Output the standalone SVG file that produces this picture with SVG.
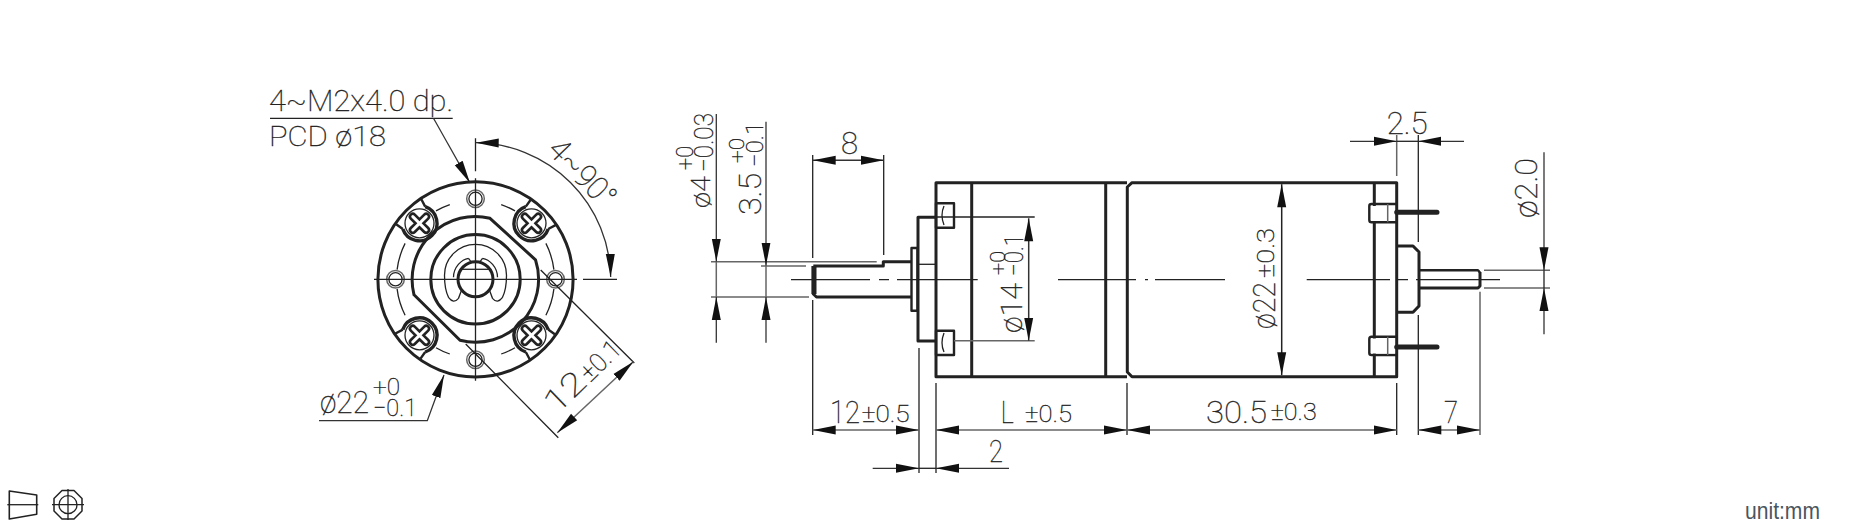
<svg xmlns="http://www.w3.org/2000/svg" xmlns:xlink="http://www.w3.org/1999/xlink" width="1850" height="524" viewBox="0 0 1850 524">
<style>
.k{fill:none;stroke:#222;stroke-width:3;stroke-linejoin:round}
.m{fill:none;stroke:#222;stroke-width:2.4;stroke-linejoin:round}
.n{fill:none;stroke:#222;stroke-width:1.3}
.g{fill:none;stroke:#666;stroke-width:1.5}
.d{fill:none;stroke:#333;stroke-width:1.3;marker-end:url(#a)}
.dd{fill:none;stroke:#666;stroke-width:1.5;marker-start:url(#as);marker-end:url(#a)}
.t{font-family:"Roboto","Liberation Sans",sans-serif;font-weight:100;fill:#222;stroke:#222;stroke-width:.35}
.s32{font-size:32px}.s29{font-size:29px}.s27{font-size:27px}.s26{font-size:26px}.s24{font-size:24px}.s21{font-size:21px}
</style>
<defs>
<marker id="a" markerUnits="userSpaceOnUse" markerWidth="24" markerHeight="10" refX="23" refY="5" orient="auto"><path d="M0,.5L23,5L0,9.5Z" fill="#111"/></marker>
<marker id="as" markerUnits="userSpaceOnUse" markerWidth="24" markerHeight="10" refX="0" refY="5" orient="auto"><path d="M23,.5L0,5L23,9.5Z" fill="#111"/></marker>
<g id="screw">
<circle cx="-56" cy="-56" r="14.5" class="n"/>
<path d="M-50.3,-72.7A17.6,17.6 0 1 1 -72.7,-50.3" fill="none" stroke="#222" stroke-width="3.4"/>
<path d="M-50.3,-72.7L-54.7,-81M-72.7,-50.3L-79.3,-55" class="m"/>
<path transform="translate(-56,-56) rotate(45)" d="M-2.8,-2.8V-9.5A2.8,2.8 0 0 1 2.8,-9.5V-2.8H9.5A2.8,2.8 0 0 1 9.5,2.8H2.8V9.5A2.8,2.8 0 0 1 -2.8,9.5V2.8H-9.5A2.8,2.8 0 0 1 -9.5,-2.8Z" fill="#fff" stroke="#222" stroke-width="2.6"/>
</g>
<g id="hole">
<circle r="8.8" class="g"/>
<circle r="6.6" class="n"/>
</g>
</defs>

<g id="front-view" transform="translate(475.5,279.3)">
<circle r="97.6" class="k" stroke-width="3.2"/>
<path d="M-25.7,-74.7A79,79 0 0 0 -39.5,-68.4M25.7,-74.7A79,79 0 0 1 39.5,-68.4M-25.7,74.7A79,79 0 0 1 -39.5,68.4M25.7,74.7A79,79 0 0 0 39.5,68.4M-78.4,-9.6A79,79 0 0 1 -70.4,-35.9M78.4,-9.6A79,79 0 0 0 70.4,-35.9M-78.4,9.6A79,79 0 0 0 -70.4,35.9M78.4,9.6A79,79 0 0 1 70.4,35.9" class="n"/>
<use xlink:href="#screw" href="#screw"/>
<use xlink:href="#screw" href="#screw" transform="rotate(90)"/>
<use xlink:href="#screw" href="#screw" transform="rotate(180)"/>
<use xlink:href="#screw" href="#screw" transform="rotate(270)"/>
<use xlink:href="#hole" href="#hole" y="-80.5"/>
<use xlink:href="#hole" href="#hole" y="80.5"/>
<use xlink:href="#hole" href="#hole" x="-80"/>
<use xlink:href="#hole" href="#hole" x="80"/>
<path d="M14.5,-61L60,-19.5A63,63 0 0 1 -15.5,61L-61.5,15.5A63,63 0 0 1 14.5,-61Z" class="k"/>
<circle r="44.7" class="k"/>
<path d="M-31,-4A31,31 0 0 1 31,-4C31,6 30,12 27,18Q22,25 17,19L14,11M-31,-4C-31,6 -30,12 -27,18Q-22,25 -17,19L-14,11M-7,-21C-14,-20 -22,-12 -22,-2M7,-21C14,-20 22,-12 22,-2M-7,-21L-4,-17M7,-21L4,-17" class="n"/>
<circle r="17.5" class="k"/>
<path d="M-14,-10H14" class="n"/>
<path d="M-101.5,0H101.5M107.5,0H141.5M0,-141V-108M0,-101V101.5" class="n"/>
</g>

<g id="side-view">
<path d="M1127,182.7H936V376.7H1127" class="k"/>
<path d="M971.7,182.7V376.7M1105.7,182.7V376.7" class="k"/>
<path d="M1396.7,182.7H1132L1127.3,187V372L1132,376.7H1396.7Z" class="k"/>
<path d="M1374.3,182.7V376.7" class="k"/>
<rect x="936" y="203.3" width="18" height="24.4" class="m" fill="#fff"/>
<rect x="936" y="330.7" width="18" height="24.3" class="m" fill="#fff"/>
<path d="M944,206Q940,215 944,225M944,333Q940,343 944,352" class="n"/>
<path d="M936,217.3H918V341H936" class="k"/>
<path d="M918,264.3H936" class="n"/>
<rect x="911.5" y="248" width="6" height="62.7" class="m"/>
<path d="M813.3,266H883.3V261.7H911M911,297H816.5L813.3,294V266" class="k"/>
<path d="M814,266V294" stroke="#222" stroke-width="5" fill="none"/>
<path d="M1396.7,204H1371.5Q1369.3,204 1369.3,206V220Q1369.3,222.3 1371.5,222.3H1396.7M1396.7,336.7H1371.5Q1369.3,336.7 1369.3,339V353Q1369.3,355 1371.5,355H1396.7" class="m"/>
<rect x="1371" y="206" width="24" height="15" fill="#fff"/>
<rect x="1371" y="338.5" width="24" height="15" fill="#fff"/>
<path d="M1387.7,204V222.3M1387.7,336.7V355" class="g"/>
<path d="M1396.7,212.3H1437M1396.7,347H1437" stroke="#222" stroke-width="5" stroke-linecap="round"/>
<path d="M1396.7,246H1413L1419,252V306L1413,312.3H1396.7" class="k"/>
<path d="M1419,270.3H1478L1480,272.5" class="m" stroke="#555" stroke-width="2"/>
<path d="M1419,288H1478L1480,286V272" class="k"/>
<path d="M791,279.7H870M879,279.7H889M897,279.7H977.7M1058,279.7H1136M1145,279.7H1148M1155,279.7H1225M1306.7,279.7H1390M1398,279.7H1408M1416,279.7H1500" class="n"/>
</g>

<g id="connectors">
<path d="M270,118.3H452.7" class="n"/>
<path d="M433.5,118.3L470,183" class="d"/>
<path d="M319,420.7H427.3L444,375" class="d"/>
<path d="M475.7,142.7A136.6,136.6 0 0 1 610.7,277" fill="none" stroke="#333" stroke-width="1.3" marker-start="url(#as)" marker-end="url(#a)"/>
<path d="M465.7,344L558.3,437.7M540.7,270L634.3,363" class="n"/>
<path d="M557.3,432.7L633.3,361.7" class="dd"/>
<path d="M711,261.7H876.7M711,297H809M761,266H806M1484,270.3H1550M1484,288H1550" class="g"/>
<path d="M716.3,114V261.7" class="d"/><path d="M716.3,342.7V297" class="d"/><path d="M716.3,261.7V297M766,265.5V297" class="g"/>
<path d="M766,121.7V265.5" class="d"/><path d="M766,342.7V297" class="d"/>
<path d="M812.7,155V258M883.7,155V255M812.7,300V435M919,348V473M936,383V473M1127,383V435M1396.7,383V435M1418.3,135V242M1418.3,315V435" class="n"/>
<path d="M1480,291.7V435M1396.7,135V176" class="g"/>
<path d="M812.7,160.3H883.7" class="dd" style="stroke:#333"/>
<path d="M812.7,430H919" class="dd"/>
<path d="M936,430H1127" class="dd"/>
<path d="M1127,430H1396.7" class="dd"/>
<path d="M1418.3,430H1480" class="dd"/>
<path d="M872.7,468.3H919" class="d"/>
<path d="M1009,468.3H936" class="d"/>
<path d="M919,468.3H936" class="n"/>
<path d="M1350,141.3H1396.7" class="d"/>
<path d="M1464,141.3H1418.3" class="d"/>
<path d="M1396.7,141.3H1418.3" class="n"/>
<path d="M1544,152.3V270.3" class="d"/><path d="M1544,334.3V288" class="d"/><path d="M1544,270.3V288" class="n"/>
<path d="M936,217H1034.7" class="n"/>
<path d="M954,340.7H1034.7" class="g"/>
<path d="M1028.7,218.3V340.7" class="dd" style="stroke:#333"/>
<path d="M1281.7,184.2V375.2" class="dd" style="stroke:#222"/>
</g>

<g id="labels">
<text class="t s29" x="269" y="110.5" textLength="184" lengthAdjust="spacingAndGlyphs">4~M2x4.0 dp.</text>
<text class="t s27" x="269" y="145.7" textLength="117" lengthAdjust="spacingAndGlyphs">PCD ø18</text>
<text class="t s32" x="320" y="412.7" textLength="49" lengthAdjust="spacingAndGlyphs">ø22</text>
<text class="t s24" x="373" y="395" textLength="27" lengthAdjust="spacingAndGlyphs">+0</text>
<text class="t s24" x="373" y="415.7" textLength="44" lengthAdjust="spacingAndGlyphs">−0.1</text>
<text class="t s32" transform="translate(546,151) rotate(46)" textLength="82" lengthAdjust="spacingAndGlyphs">4~90°</text>
<text class="t s32" transform="translate(556.7,415) rotate(-44)" textLength="44" lengthAdjust="spacingAndGlyphs">12</text>
<text class="t s26" transform="translate(590,383) rotate(-44)" textLength="46" lengthAdjust="spacingAndGlyphs">±0.1</text>
<text class="t s26" transform="translate(710.3,208) rotate(-90)" textLength="32" lengthAdjust="spacingAndGlyphs">ø4</text>
<text class="t s24" transform="translate(693,170) rotate(-90)" textLength="24" lengthAdjust="spacingAndGlyphs">+0</text>
<text class="t s26" transform="translate(712.5,172) rotate(-90)" textLength="59" lengthAdjust="spacingAndGlyphs">−0.03</text>
<text class="t s32" transform="translate(761,215) rotate(-90)" textLength="42" lengthAdjust="spacingAndGlyphs">3.5</text>
<text class="t s21" transform="translate(744,163) rotate(-90)" textLength="25" lengthAdjust="spacingAndGlyphs">+0</text>
<text class="t s24" transform="translate(763.3,167) rotate(-90)" textLength="45" lengthAdjust="spacingAndGlyphs">−0.1</text>
<text class="t s32" x="841" y="154" textLength="17" lengthAdjust="spacingAndGlyphs">8</text>
<text class="t s29" transform="translate(1022.3,333) rotate(-90)" textLength="50" lengthAdjust="spacingAndGlyphs">ø14</text>
<text class="t s21" transform="translate(1005,275) rotate(-90)" textLength="24" lengthAdjust="spacingAndGlyphs">+0</text>
<text class="t s26" transform="translate(1023,276) rotate(-90)" textLength="42" lengthAdjust="spacingAndGlyphs">−0.1</text>
<text class="t s32" transform="translate(1275,329) rotate(-90)" textLength="47" lengthAdjust="spacingAndGlyphs">ø22</text>
<text class="t s24" transform="translate(1274,278) rotate(-90)" textLength="50" lengthAdjust="spacingAndGlyphs">±0.3</text>
<text class="t s32" transform="translate(1536.7,218) rotate(-90)" textLength="60" lengthAdjust="spacingAndGlyphs">ø2.0</text>
<text class="t s32" x="1386.7" y="134.3" textLength="41" lengthAdjust="spacingAndGlyphs">2.5</text>
<text class="t s32" x="830" y="423.3" textLength="30" lengthAdjust="spacingAndGlyphs">12</text>
<text class="t s24" x="861.7" y="422.3" textLength="48" lengthAdjust="spacingAndGlyphs">±0.5</text>
<text class="t s32" x="1000.7" y="423" textLength="13" lengthAdjust="spacingAndGlyphs">L</text>
<text class="t s24" x="1025" y="422.3" textLength="47" lengthAdjust="spacingAndGlyphs">±0.5</text>
<text class="t s32" x="1206" y="422.7" textLength="61" lengthAdjust="spacingAndGlyphs">30.5</text>
<text class="t s24" x="1270.7" y="420" textLength="46" lengthAdjust="spacingAndGlyphs">±0.3</text>
<text class="t s32" x="1444" y="423.3" textLength="14" lengthAdjust="spacingAndGlyphs">7</text>
<text class="t s32" x="989" y="461.7" textLength="14" lengthAdjust="spacingAndGlyphs">2</text>
<text x="1745" y="519.3" textLength="75" lengthAdjust="spacingAndGlyphs" font-family="Liberation Sans, sans-serif" font-size="24" fill="#4a5560">unit:mm</text>
</g>

<g id="projection-symbol">
<path d="M9.3,491L36.7,495V514.3L9.3,519Z" class="m" style="stroke-width:1.6"/>
<path d="M7.3,504.7H38.3" class="n"/>
<path d="M62,490.5H74L82,498.5V511L74,519H62L54,511V498.5Z" class="m" style="stroke-width:1.5"/>
<circle cx="68" cy="504.7" r="9" class="n"/>
<path d="M52,504.7H84M68,489V520" class="n"/>
</g>
</svg>
